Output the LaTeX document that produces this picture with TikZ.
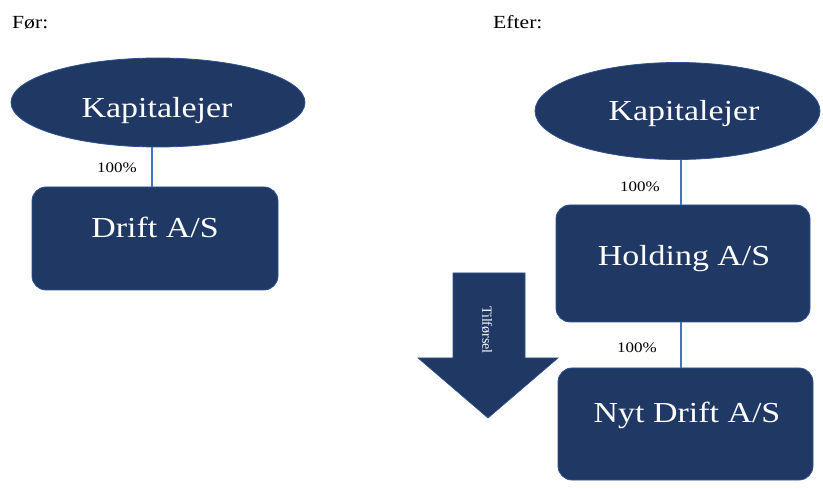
\documentclass[tikz,border=0pt]{standalone}
\usepackage{fontspec}
\setmainfont{Liberation Serif}
\usetikzlibrary{shapes.geometric}
\definecolor{navy}{RGB}{31,56,100}
\definecolor{navyedge}{RGB}{47,82,143}
\definecolor{linkblue}{RGB}{68,114,196}
\newcommand{\wide}[1]{\scalebox{1.17}[1]{#1}}
\tikzset{
  owner/.style={ellipse, fill=navy, draw=navyedge, line width=0.8pt, inner sep=0pt},
  company/.style={rectangle, rounded corners=14pt, fill=navy, draw=navyedge, line width=0.8pt, inner sep=0pt},
  bigtext/.style={text=white, font=\fontsize{29}{32}\selectfont, anchor=base, inner sep=0pt},
  pct/.style={text=black, font=\fontsize{14.5}{16}\selectfont, anchor=base west, inner sep=0pt},
  heading/.style={text=black, font=\fontsize{18.5}{20}\selectfont, anchor=base west, inner sep=0pt},
  link/.style={draw=linkblue, line width=1.6pt},
  flowarrow/.style={fill=navy, draw=navyedge, line width=0.6pt}
}
\begin{document}
\begin{tikzpicture}[x=1pt,y=-1pt]
\useasboundingbox[fill=white] (0,0) rectangle (823,489);

% headings
\node[heading] (hbefore) at (12,29) {\wide{Før:}};
\node[heading] (hafter) at (493,29) {\wide{Efter:}};

% before: owner and operating company
\node[owner, minimum width=294, minimum height=89] (kapL) at (158,102.5) {};
\node[bigtext] (kapLt) at (157,118) {\wide{Kapitalejer}};
\node[company, minimum width=246, minimum height=103] (drift) at (155,238.5) {};
\node[bigtext] (driftt) at (155,238) {\wide{Drift A/S}};
\draw[link] (kapL.south -| 152,0) -- (drift.north -| 152,0);
\node[pct] (pL) at (97,173) {\wide{100\%}};

% after: owner, holding company and new operating company
\node[owner, minimum width=285, minimum height=97] (kapR) at (677.5,111) {};
\node[bigtext] (kapRt) at (684,121) {\wide{Kapitalejer}};
\node[company, minimum width=254, minimum height=117] (hold) at (683,263.5) {};
\node[bigtext] (holdt) at (684,266) {\wide{Holding A/S}};
\node[company, minimum width=255, minimum height=112] (nyt) at (685.5,424) {};
\node[bigtext] (nytt) at (687,422) {\wide{Nyt Drift A/S}};
\draw[link] (kapR.south -| 681,0) -- (hold.north -| 681,0);
\draw[link] (hold.south -| 681,0) -- (nyt.north -| 681,0);
\node[pct] (pR1) at (620,192) {\wide{100\%}};
\node[pct] (pR2) at (617,353) {\wide{100\%}};

% transfer arrow
\draw[flowarrow] (453,273) -- (525,273) -- (525,358) -- (558,358) -- (488,418)
  -- (418,358) -- (453,358) -- cycle;
\node[text=white, font=\fontsize{14}{16}\selectfont, rotate=-90, inner sep=0pt] (tilf) at (487,330) {Tilførsel};
\end{tikzpicture}
\end{document}
